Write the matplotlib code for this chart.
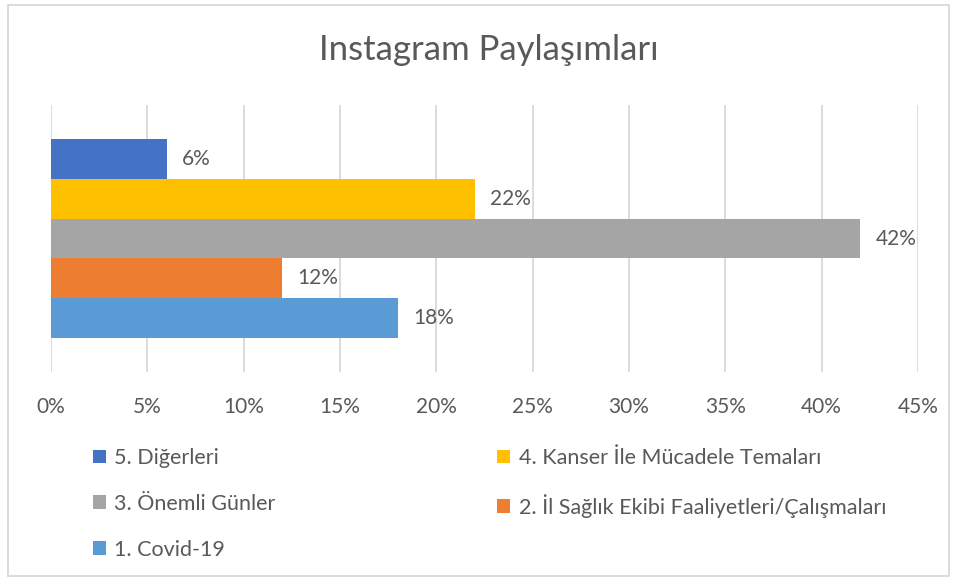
import matplotlib.pyplot as plt
from matplotlib.patches import Rectangle, Patch

plt.rcParams['font.family'] = ['Lato', 'DejaVu Sans']

kategoriler = ['5. Diğerleri', '4. Kanser İle Mücadele Temaları', '3. Önemli Günler',
               '2. İl Sağlık Ekibi Faaliyetleri/Çalışmaları', '1. Covid-19']
oranlar = [6, 22, 42, 12, 18]
renkler = ['#4472C4', '#FFC000', '#A5A5A5', '#ED7D31', '#5B9BD5']
xticks = [0, 5, 10, 15, 20, 25, 30, 35, 40, 45]

yazi = '#595959'

fig = plt.figure(figsize=(9.56, 5.81), dpi=100)
ax = fig.add_axes([0.0533, 0.3597, 0.907, 0.4596])

konum = [2, 1, 0, -1, -2]
for k, v, r, y in zip(kategoriler, oranlar, renkler, konum):
    ax.barh(y, v, height=1.0, color=r, label=k)
    ax.annotate(f'{v}%', (v, y), xytext=(11, 0), textcoords='offset points',
                va='center', ha='left', fontsize=15, color=yazi)

ax.set_xlim(0, 45)
ax.set_ylim(-3.37, 3.37)
ax.set_xticks(xticks)
ax.set_xticklabels([f'{t}%' for t in xticks], fontsize=15, color=yazi)
ax.set_yticks([])
ax.tick_params(axis='x', length=0, pad=18)
ax.grid(axis='x', color='#D9D9D9', linewidth=1.3)
ax.set_axisbelow(True)
for s in ax.spines.values():
    s.set_visible(False)

fig.text(0.511, 0.914, 'Instagram Paylaşımları', ha='center', va='center',
         fontsize=25, color=yazi)

# legend: excel sirasi satir satir, matplotlib sutun sutun doldurur
sira = [0, 2, 4, 1, 3]
handles = [Patch(facecolor=renkler[i], edgecolor='none') for i in sira]
labels = [kategoriler[i] for i in sira]
fig.legend(handles, labels, loc='upper left', bbox_to_anchor=(0.097, 0.229),
           ncol=2, frameon=False, fontsize=15.5, labelcolor=yazi,
           handlelength=0.6, handleheight=0.6, handletextpad=0.4,
           labelspacing=1.2, columnspacing=10.3, borderpad=0, borderaxespad=0)

fig.patches.append(Rectangle((0.008, 0.009), 0.985, 0.982, transform=fig.transFigure,
                             fill=False, edgecolor='#D9D9D9', linewidth=1.3))

fig.savefig('out.png', dpi=100)
